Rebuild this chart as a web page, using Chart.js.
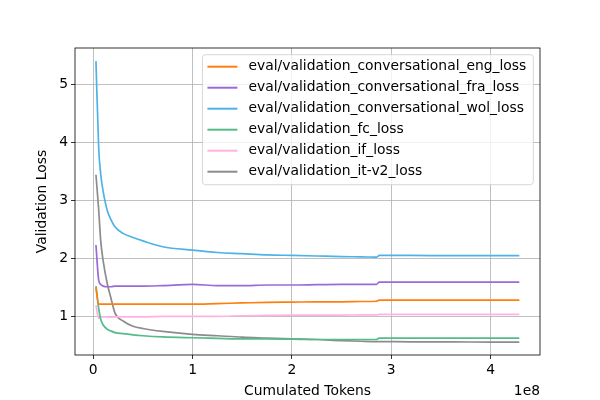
<!DOCTYPE html>
<html>
<head>
<meta charset="utf-8">
<script src="https://cdn.jsdelivr.net/npm/chart.js@4/dist/chart.umd.min.js"></script>
<style>
  body { margin: 0; background: #fff; }
</style>
</head>
<body>
<canvas id="lossChart" width="600" height="400"></canvas>
<script>
// Tokens seen at each eval step
const tokens = [2.7e6, 5.4e6, 7.5e6, 1.0e7, 1.4e7, 1.8e7, 2.2e7, 3.0e7, 4.0e7, 5.0e7, 7.0e7,
  1.0e8, 1.25e8, 1.5e8, 1.75e8, 2.0e8, 2.25e8, 2.5e8, 2.7e8, 2.85e8, 2.88e8, 3.2e8, 3.6e8, 4.0e8, 4.29e8];

const engLoss = [1.50, 1.21, 1.21, 1.21, 1.21, 1.21, 1.21, 1.21, 1.21, 1.21, 1.21,
  1.21, 1.22, 1.23, 1.24, 1.245, 1.25, 1.25, 1.255, 1.26, 1.28, 1.28, 1.28, 1.28, 1.28];
const fraLoss = [2.23, 1.63, 1.55, 1.52, 1.51, 1.51, 1.52, 1.52, 1.52, 1.52, 1.53,
  1.55, 1.53, 1.53, 1.54, 1.54, 1.545, 1.55, 1.55, 1.55, 1.59, 1.59, 1.59, 1.59, 1.59];
const wolLoss = [5.40, 3.92, 3.45, 3.15, 2.83, 2.66, 2.54, 2.43, 2.36, 2.30, 2.20,
  2.14, 2.10, 2.08, 2.06, 2.05, 2.04, 2.03, 2.025, 2.02, 2.05, 2.05, 2.045, 2.045, 2.045];
const fcLoss = [1.52, 1.14, 0.95, 0.85, 0.78, 0.745, 0.72, 0.70, 0.68, 0.665, 0.645,
  0.63, 0.62, 0.61, 0.61, 0.605, 0.60, 0.60, 0.60, 0.60, 0.625, 0.625, 0.625, 0.625, 0.625];
const ifLoss = [1.19, 0.965, 0.99, 0.99, 0.99, 0.985, 0.99, 0.99, 0.99, 0.99, 1.0,
  1.0, 1.0, 1.01, 1.015, 1.02, 1.02, 1.02, 1.025, 1.025, 1.035, 1.035, 1.035, 1.035, 1.035];
const itLoss = [3.44, 2.85, 2.30, 1.95, 1.57, 1.30, 1.05, 0.92, 0.83, 0.79, 0.74,
  0.69, 0.665, 0.64, 0.625, 0.61, 0.60, 0.58, 0.57, 0.565, 0.565, 0.56, 0.56, 0.555, 0.555];

const xTicks = [0, 1e8, 2e8, 3e8, 4e8];
const yTicks = [1, 2, 3, 4, 5];

const seriesInfo = [
  { label: "eval/validation_conversational_eng_loss", data: engLoss, color: "#ff7f0e" },
  { label: "eval/validation_conversational_fra_loss", data: fraLoss, color: "#9a6bd6" },
  { label: "eval/validation_conversational_wol_loss", data: wolLoss, color: "#4db3e6" },
  { label: "eval/validation_fc_loss", data: fcLoss, color: "#55bb88" },
  { label: "eval/validation_if_loss", data: ifLoss, color: "#ffb3e0" },
  { label: "eval/validation_it-v2_loss", data: itLoss, color: "#8c8c8c" },
];

const FONT = "DejaVu Sans";
const FS = 13.89;
Chart.defaults.color = "#000";
Chart.defaults.font.family = FONT;
Chart.defaults.font.size = FS;

// spines + offset text + legend inside the axes, matplotlib style
const mplExtras = {
  id: "mplExtras",
  afterDatasetsDraw(chart) {
    const { ctx, chartArea: a } = chart;
    ctx.save();
    ctx.strokeStyle = "#000";
    ctx.lineWidth = 0.8;
    ctx.strokeRect(a.left, a.top, a.right - a.left, a.bottom - a.top);

    ctx.font = FS + "px '" + FONT + "'";
    ctx.fillStyle = "#000";
    ctx.textAlign = "right";
    ctx.textBaseline = "middle";
    ctx.fillText("1e8", a.right, 391);

    // legend
    const sets = chart.data.datasets;
    let maxW = 0;
    sets.forEach((d) => { maxW = Math.max(maxW, ctx.measureText(d.label).width); });
    const right = a.right - 6.7;
    const top = a.top + 6.7;
    const left = right - (maxW + 53);
    const rowH = 21;
    const h = sets.length * rowH + 4;
    ctx.globalAlpha = 0.8;
    ctx.beginPath();
    ctx.roundRect(left, top, right - left, h, 3);
    ctx.fillStyle = "#fff";
    ctx.fill();
    ctx.strokeStyle = "#cccccc";
    ctx.lineWidth = 1;
    ctx.stroke();
    ctx.globalAlpha = 1;
    ctx.textAlign = "left";
    sets.forEach((d, i) => {
      const y = top + 12 + i * rowH;
      ctx.strokeStyle = d.borderColor;
      ctx.lineWidth = 2;
      ctx.beginPath();
      ctx.moveTo(left + 5, y);
      ctx.lineTo(left + 35, y);
      ctx.stroke();
      ctx.fillStyle = "#000";
      ctx.fillText(d.label, left + 46, y);
    });
    ctx.restore();
  },
};

const ctx = document.getElementById("lossChart").getContext("2d");
new Chart(ctx, {
  type: "line",
  data: {
    datasets: seriesInfo.map((s) => ({
      label: s.label,
      data: tokens.map((t, i) => ({ x: t, y: s.data[i] })),
      borderColor: s.color,
      backgroundColor: s.color,
      borderWidth: 1.7,
      pointRadius: 0,
      cubicInterpolationMode: "monotone",
    })),
  },
  options: {
    responsive: false,
    animation: false,
    layout: { padding: { top: 48, right: 60, left: 30, bottom: 0 } },
    plugins: { legend: { display: false }, tooltip: { enabled: false } },
    scales: {
      x: {
        type: "linear",
        min: -0.184e8,
        max: 4.498e8,
        afterBuildTicks: (axis) => { axis.ticks = xTicks.map((v) => ({ value: v })); },
        afterFit: (axis) => { axis.height = 45; },
        ticks: { padding: 3, maxRotation: 0, callback: (v) => String(v / 1e8) },
        grid: { color: "#b0b0b0", lineWidth: 0.8, tickLength: 4, tickColor: "#000" },
        border: { display: false },
        title: { display: true, text: "Cumulated Tokens", padding: { top: 3, bottom: 0 } },
      },
      y: {
        min: 0.333,
        max: 5.626,
        afterBuildTicks: (axis) => { axis.ticks = yTicks.map((v) => ({ value: v })); },
        afterFit: (axis) => { axis.width = 45; },
        ticks: { padding: 3, callback: (v) => String(v) },
        grid: { color: "#b0b0b0", lineWidth: 0.8, tickLength: 4, tickColor: "#000" },
        border: { display: false },
        title: { display: true, text: "Validation Loss", padding: { top: 4, bottom: 4 } },
      },
    },
  },
  plugins: [mplExtras],
});
</script>
</body>
</html>
